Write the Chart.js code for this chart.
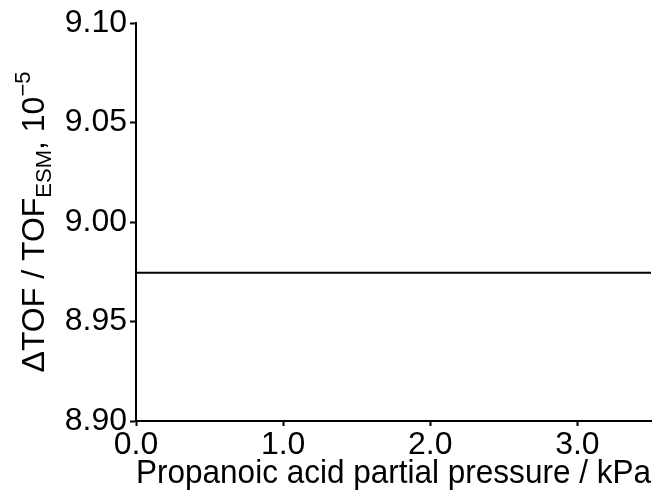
<!DOCTYPE html>
<html>
<head>
<meta charset="utf-8">
<script src="https://cdn.jsdelivr.net/npm/chart.js@4.4.1/dist/chart.umd.min.js"></script>
<style>
  html, body { margin: 0; padding: 0; background: #fff; }
  #wrap { width: 662px; height: 497px; position: relative; }
</style>
</head>
<body>
<div id="wrap"><canvas id="tof-chart"></canvas></div>
<script>
// values
const pressures = [0.0, 3.5];            // kPa
const deltaTof = [8.9745, 8.9745];       // ΔTOF / TOF_ESM, 10^-5
const xTicks = [0, 1, 2, 3];
const yTicks = [8.90, 8.95, 9.00, 9.05, 9.10];

const FONT = '"Liberation Sans", Arial, Helvetica, sans-serif';
Chart.defaults.font.family = FONT;
Chart.defaults.color = '#000';

// rotated y title with subscript / superscript parts
const yTitlePlugin = {
    id: 'yTitle',
    afterDraw(chart) {
        const c = chart.ctx;
        const area = chart.chartArea;
        const parts = [
            { t: '\u0394TOF / TOF', size: 32, dy: 0 },
            { t: 'ESM', size: 22, dy: 7 },
            { t: ', 10', size: 32, dy: 0 },
            { t: '\u22125', size: 22, dy: -14 }
        ];
        c.save();
        c.fillStyle = '#000';
        c.textBaseline = 'alphabetic';
        c.textAlign = 'left';
        let total = 0;
        parts.forEach(p => {
            c.font = p.size + 'px ' + FONT;
            p.w = c.measureText(p.t).width;
            total += p.w;
        });
        c.translate(44, (area.top + area.bottom) / 2);
        c.rotate(-Math.PI / 2);
        let x = -total / 2;
        parts.forEach(p => {
            c.font = p.size + 'px ' + FONT;
            c.fillText(p.t, x, p.dy);
            x += p.w;
        });
        c.restore();
    }
};

const ctx = document.getElementById('tof-chart').getContext('2d');
new Chart(ctx, {
    type: 'line',
    data: {
        datasets: [{
            data: pressures.map((p, i) => ({ x: p, y: deltaTof[i] })),
            borderColor: '#000',
            borderWidth: 2,
            pointRadius: 0,
            fill: false,
            tension: 0
        }]
    },
    options: {
        responsive: true,
        maintainAspectRatio: false,
        animation: false,
        layout: { padding: { top: 23, right: 11, left: 0, bottom: 0 } },
        plugins: { legend: { display: false }, tooltip: { enabled: false } },
        scales: {
            x: {
                type: 'linear',
                min: 0,
                max: 3.5,
                afterBuildTicks: s => { s.ticks = xTicks.map(v => ({ value: v })); },
                afterFit: s => { s.height = 76; },
                grid: { drawOnChartArea: false, drawTicks: true, tickLength: 5, tickWidth: 2, tickColor: '#000' },
                border: { display: true, color: '#000', width: 2 },
                ticks: {
                    maxRotation: 0,
                    padding: 0,
                    color: '#000',
                    font: { size: 32 },
                    callback: v => Number(v).toFixed(1)
                },
                title: {
                    display: true,
                    text: 'Propanoic acid partial pressure / kPa',
                    color: '#000',
                    font: { size: 33 },
                    padding: { top: 0, bottom: 3 }
                }
            },
            y: {
                type: 'linear',
                min: 8.9,
                max: 9.1,
                afterBuildTicks: s => { s.ticks = yTicks.map(v => ({ value: v })); },
                afterFit: s => { s.width = 136; },
                grid: { drawOnChartArea: false, drawTicks: true, tickLength: 6, tickWidth: 2, tickColor: '#000' },
                border: { display: true, color: '#000', width: 2 },
                ticks: {
                    padding: 3,
                    color: '#000',
                    font: { size: 32 },
                    callback: v => Number(v).toFixed(2)
                }
            }
        }
    },
    plugins: [yTitlePlugin]
});
</script>
</body>
</html>
